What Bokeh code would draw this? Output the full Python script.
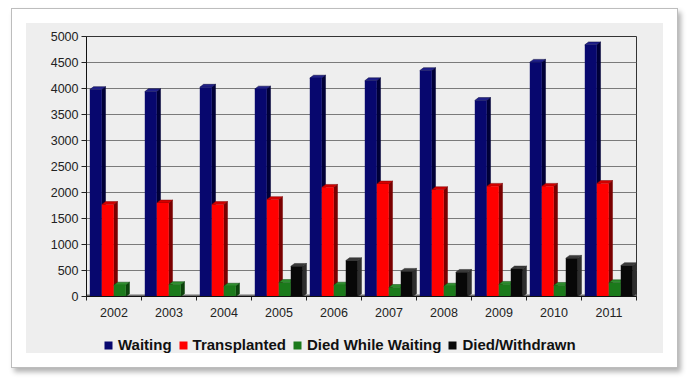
from bokeh.plotting import figure
from bokeh.layouts import column
from bokeh.models import (Range1d, FixedTicker, Legend, LegendItem, ColumnDataSource)
from bokeh.embed import file_html
from bokeh.resources import INLINE

# ---- data ----
years = ["2002", "2003", "2004", "2005", "2006", "2007", "2008", "2009", "2010", "2011"]
waiting = [3980, 3940, 4025, 3990, 4200, 4150, 4345, 3770, 4505, 4840]
transplanted = [1770, 1800, 1770, 1865, 2100, 2165, 2055, 2120, 2120, 2175]
died_while_waiting = [220, 230, 200, 270, 220, 175, 200, 235, 215, 265]
died_withdrawn = [0, 0, 0, 580, 690, 485, 465, 530, 735, 595]
series_names = ["Waiting", "Transplanted", "Died While Waiting", "Died/Withdrawn"]
y_ticks = [0, 500, 1000, 1500, 2000, 2500, 3000, 3500, 4000, 4500, 5000]

# ---- styles ----
front_colors = ["#07076e", "#ff0000", "#1b7a1b", "#080808"]
side_colors = ["#000038", "#7a0000", "#0c420c", "#2e2e2e"]
top_colors = ["#20208a", "#d40000", "#2f8f2f", "#3a3a3a"]
FONT = "Liberation Sans"
PANEL = "#eeeeee"

n = len(years)
Y_MAX = y_ticks[-1]
bar_w = 0.218
start = 0.06
dx = 0.068      # depth in category units
dy = 55.0       # depth in value units

p = figure(width=637, height=310,
           x_range=Range1d(0, n), y_range=Range1d(0, Y_MAX),
           output_backend="svg", toolbar_location=None,
           min_border_left=60, min_border_right=27,
           min_border_top=13, min_border_bottom=37,
           border_fill_color=PANEL, background_fill_color=PANEL,
           outline_line_color="#333333", outline_line_width=1)

# ---- floor ----
p.quad(left=[0], right=[n + dx], bottom=[0], top=[dy * 0.7],
       fill_color="#6e6e6e", line_color=None)

# ---- 3D bars ----
all_vals = [waiting, transplanted, died_while_waiting, died_withdrawn]
for s, vals in enumerate(all_vals):
    lefts, rights, tops = [], [], []
    side_xs, side_ys, top_xs, top_ys = [], [], [], []
    for j, v in enumerate(vals):
        if v <= 0:
            continue
        L = j + start + s * bar_w
        R = L + bar_w
        lefts.append(L); rights.append(R); tops.append(v)
        side_xs.append([R, R + dx, R + dx, R])
        side_ys.append([0, dy, v + dy, v])
        top_xs.append([L, L + dx, R + dx, R])
        top_ys.append([v, v + dy, v + dy, v])
    p.patches(side_xs, side_ys, fill_color=side_colors[s], line_color=side_colors[s],
              line_width=0.5)
    p.patches(top_xs, top_ys, fill_color=top_colors[s], line_color=side_colors[s],
              line_width=0.5)
    src = ColumnDataSource(dict(left=lefts, right=rights, top=tops, bottom=[0] * len(tops)))
    p.quad(left="left", right="right", top="top", bottom="bottom", source=src,
           fill_color=front_colors[s], line_color=None)

# ---- axes ----
centers = [j + 0.5 for j in range(n)]
bounds = [j for j in range(n + 1)]
xax = p.xaxis[0]
xax.ticker = FixedTicker(ticks=centers, minor_ticks=bounds)
xax.major_label_overrides = {c: yr for c, yr in zip(centers, years)}
xax.major_tick_out = 0
xax.major_tick_in = 0
xax.minor_tick_out = 4
xax.minor_tick_in = 0
xax.minor_tick_line_color = "#222222"
xax.axis_line_color = "#111111"
xax.major_label_standoff = 7
xax.major_label_text_font = FONT
xax.major_label_text_font_size = "12.5px"
xax.major_label_text_color = "#222222"

yax = p.yaxis[0]
yax.ticker = FixedTicker(ticks=y_ticks)
yax.major_tick_out = 5
yax.major_tick_in = 0
yax.minor_tick_out = 0
yax.minor_tick_in = 0
yax.axis_line_color = "#111111"
yax.major_tick_line_color = "#222222"
yax.major_label_standoff = 3
yax.major_label_text_font = FONT
yax.major_label_text_font_size = "12.5px"
yax.major_label_text_color = "#222222"

p.xgrid.visible = False
p.ygrid.ticker = FixedTicker(ticks=y_ticks)
p.ygrid.grid_line_color = "#7a7a7a"
p.ygrid.grid_line_width = 1

# ---- legend strip (separate small figure) ----
pl = figure(width=637, height=20, x_range=Range1d(0, 1), y_range=Range1d(0, 1),
            output_backend="svg", toolbar_location=None,
            x_axis_location=None, y_axis_location=None,
            min_border_left=0, min_border_right=0, min_border_top=0, min_border_bottom=0,
            border_fill_color=PANEL, background_fill_color=PANEL,
            outline_line_color=None)
pl.xgrid.visible = False
pl.ygrid.visible = False
# legend swatches: one off-range point per series so the legend can draw its glyph
leg_renderers = [pl.quad(left=[-2], right=[-1], top=[-1], bottom=[-2],
                         fill_color=c, line_color=None) for c in front_colors]
legend = Legend(items=[LegendItem(label=nm, renderers=[rr])
                       for nm, rr in zip(series_names, leg_renderers)],
                location=(17, 0), orientation="horizontal",
                background_fill_alpha=0, border_line_alpha=0,
                padding=0, margin=0, spacing=6, label_standoff=5,
                glyph_width=10, glyph_height=10, label_height=16,
                label_text_font=FONT, label_text_font_style="bold",
                label_text_font_size="15px", label_text_color="#111111")
pl.add_layout(legend)

layout = column(p, pl, spacing=0)
layout.margin = (23, 0, 0, 26)
layout.styles = {"background-color": PANEL,
                 "box-shadow": "0 0 0 14px #ffffff, 0 0 0 15px #bdbdbd, "
                               "3px 4px 5px 15px rgba(0,0,0,0.30)"}

open("out.html", "w").write(file_html(layout, INLINE))
